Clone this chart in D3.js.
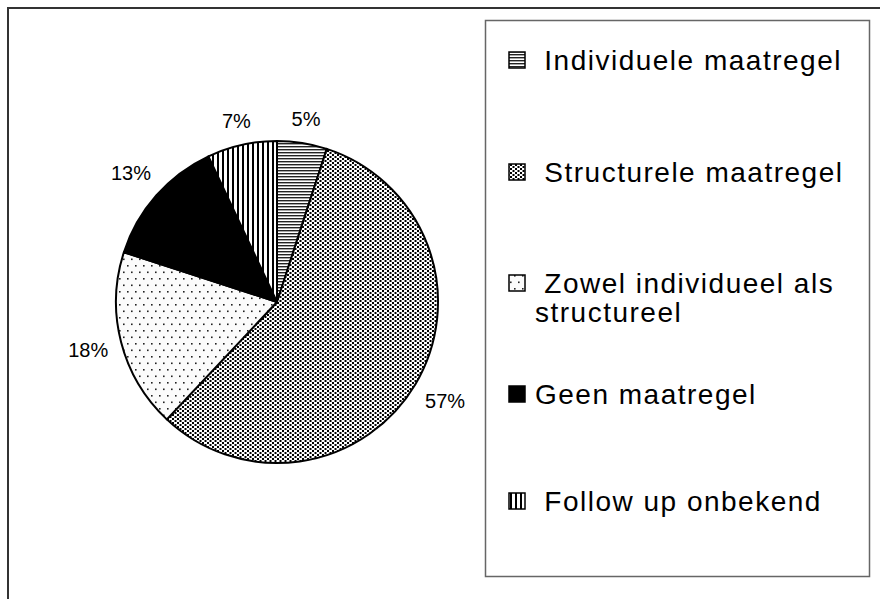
<!DOCTYPE html>
<html><head><meta charset="utf-8">
<script src="https://cdn.jsdelivr.net/npm/d3@7"></script>
<style>body{margin:0;background:#fff}svg{display:block}</style>
</head><body>
<svg id="c" width="880" height="599"></svg>
<script>
const categories = ["Individuele maatregel","Structurele maatregel","Zowel individueel als structureel","Geen maatregel","Follow up onbekend"];
const legendLines = [[" Individuele maatregel"],[" Structurele maatregel"],[" Zowel individueel als","structureel"],["Geen maatregel"],[" Follow up onbekend"]];
const values = [5, 57, 18, 13, 7];
const labels = ["5%","57%","18%","13%","7%"];
const patterns = ["hlines","densedots","sparsedots","solid","vlines"];

const svg = d3.select("#c");
const defs = svg.append("defs");
let p = defs.append("pattern").attr("id","hlines").attr("patternUnits","userSpaceOnUse").attr("width",4).attr("height",3);
p.append("rect").attr("width",4).attr("height",3).attr("fill","#fff");
p.append("rect").attr("width",4).attr("height",1.4).attr("fill","#222");
p = defs.append("pattern").attr("id","vlines").attr("patternUnits","userSpaceOnUse").attr("width",5).attr("height",4);
p.append("rect").attr("width",5).attr("height",4).attr("fill","#fff");
p.append("rect").attr("width",2).attr("height",4).attr("fill","#000");
p = defs.append("pattern").attr("id","densedots").attr("patternUnits","userSpaceOnUse").attr("width",5).attr("height",4);
p.append("rect").attr("width",5).attr("height",4).attr("fill","#fff");
p.append("rect").attr("x",0).attr("y",0).attr("width",2).attr("height",2).attr("fill","#000");
p.append("rect").attr("x",2.5).attr("y",2).attr("width",2).attr("height",2).attr("fill","#000");
p = defs.append("pattern").attr("id","sparsedots").attr("patternUnits","userSpaceOnUse").attr("width",8).attr("height",13);
p.append("rect").attr("width",8).attr("height",13).attr("fill","#fbfbfb");
p.append("rect").attr("x",2).attr("y",2).attr("width",1.6).attr("height",1.6).attr("fill","#222");
p.append("rect").attr("x",6).attr("y",8.5).attr("width",1.6).attr("height",1.6).attr("fill","#222");
const fillOf = k => k === "solid" ? "#000" : `url(#${k})`;

// outer frame
svg.append("rect").attr("x",8).attr("y",8).attr("width",900).attr("height",700)
  .attr("fill","none").attr("stroke","#333").attr("stroke-width",2);

// pie
const cx = 277, cy = 302, r = 161;
const pie = d3.pie().sort(null).value(d => d)(values);
const arc = d3.arc().innerRadius(0).outerRadius(r);
const g = svg.append("g").attr("transform",`translate(${cx},${cy})`);
g.selectAll("path").data(pie).join("path")
  .attr("d", arc)
  .attr("fill",(d,i)=>fillOf(patterns[i]))
  .attr("stroke","#000").attr("stroke-width",2).attr("stroke-linejoin","round");

const fs = 20;
g.selectAll("text.lbl").data(pie).join("text").attr("class","lbl")
  .attr("text-anchor","middle").attr("dominant-baseline","central")
  .attr("font-family","Liberation Sans, Arial, sans-serif").attr("font-size",fs)
  .text((d,i)=>labels[i])
  .attr("transform", function(d) {
    const a = (d.startAngle + d.endAngle) / 2;
    const s = Math.sin(a), c = -Math.cos(a);
    const w = this.getComputedTextLength(), h = fs;
    const dist = r + 12 + Math.abs(s) * w / 2 + Math.abs(c) * h / 2;
    return `translate(${s*dist},${c*dist})`;
  });

// legend
svg.append("rect").attr("x",485.5).attr("y",20.5).attr("width",384).attr("height",556)
  .attr("fill","#fff").attr("stroke","#666").attr("stroke-width",1.5);
const ly = [60, 172, 283, 394, 501];
const lg = svg.append("g");
categories.forEach((c,i) => {
  const y = ly[i];
  lg.append("rect").attr("x",509).attr("y",y-8).attr("width",16).attr("height",16)
    .attr("fill",fillOf(patterns[i])).attr("stroke","#000").attr("stroke-width",1.5);
  const t = lg.append("text").attr("font-family","Liberation Sans, Arial, sans-serif")
    .attr("font-size",28).attr("letter-spacing",1.5).attr("fill","#000");
  legendLines[i].forEach((line,j) => {
    t.append("tspan").attr("x", 535).attr("y", y + 10 + j*29).attr("xml:space","preserve").text(line);
  });
});
</script>
</body></html>
